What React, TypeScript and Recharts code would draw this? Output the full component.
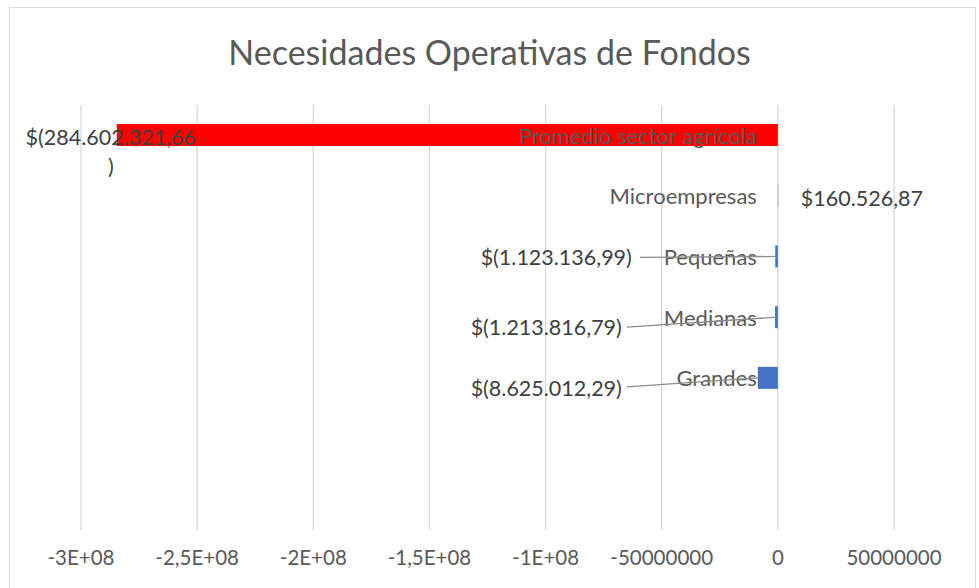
import { BarChart, Bar, XAxis, YAxis, CartesianGrid, Cell, LabelList } from 'recharts';

const categories = ['Promedio sector agrícola', 'Microempresas', 'Pequeñas', 'Medianas', 'Grandes', '', ''];
const values: (number | null)[] = [-284602321.66, 160526.87, -1123136.99, -1213816.79, -8625012.29, null, null];
const valueLabels = ['$(284.602.321,66|)', '$160.526,87', '$(1.123.136,99)', '$(1.213.816,79)', '$(8.625.012,29)', '', ''];
const xTicks = [-300000000, -250000000, -200000000, -150000000, -100000000, -50000000, 0, 50000000];
const xTickLabels = ['-3E+08', '-2,5E+08', '-2E+08', '-1,5E+08', '-1E+08', '-50000000', '0', '50000000'];

const RED = '#ff0000';
const BLUE = '#4472c4';
const TEXT = '#595959';
const FONT = 'Lato, "Open Sans", sans-serif';

// where each value label sits, relative to the zero line (or the bar end)
const labelPlaces = [
  { anchor: 'middle', from: 'end', dx: -6, dy: 2, leader: null },
  { anchor: 'start', from: 'zero', dx: 23, dy: 2, leader: null },
  { anchor: 'end', from: 'zero', dx: -146, dy: 1, leader: [-138, 1] },
  { anchor: 'end', from: 'zero', dx: -156, dy: 10, leader: [-151, 10] },
  { anchor: 'end', from: 'zero', dx: -156, dy: 10, leader: [-151, 9] },
];

const data = categories.map((name, i) => ({
  slot: `c${i}`,
  name,
  value: values[i],
  label: valueLabels[i],
}));

function BarLabels(props: any) {
  const vb = props.viewBox ?? props;
  const index: number = props.index;
  const d = data[index];
  if (!d || d.value == null || vb == null) return null;
  const x: number = Number(vb.x);
  const w: number = Number(vb.width);
  const y: number = Number(vb.y) + Number(vb.height) / 2;
  const zero = d.value < 0 ? Math.max(x, x + w) : Math.min(x, x + w);
  const end = d.value < 0 ? Math.min(x, x + w) : Math.max(x, x + w);
  const place = labelPlaces[index];
  const base = place.from === 'zero' ? zero : end;
  const lines = d.label.split('|');
  return (
    <g>
      <text
        x={zero - 21}
        y={y}
        textAnchor="end"
        dominantBaseline="central"
        fill={TEXT}
        fontSize={22}
        fontFamily={FONT}
      >
        {d.name}
      </text>
      {place.leader && (
        <line
          x1={zero + place.leader[0]}
          y1={y + place.leader[1]}
          x2={index === 4 ? end : zero - 1}
          y2={y}
          stroke="#8c8c8c"
          strokeWidth={1.3}
        />
      )}
      <text
        x={base + place.dx}
        y={y + place.dy}
        textAnchor={place.anchor as any}
        dominantBaseline="central"
        fill="#404040"
        fontSize={21.5}
        fontFamily={FONT}
      >
        {lines.map((ln, k) => (
          <tspan key={k} x={base + place.dx} dy={k === 0 ? 0 : 29}>
            {ln}
          </tspan>
        ))}
      </text>
    </g>
  );
}

export default function App() {
  return (
    <div
      style={{
        position: 'absolute',
        left: 0,
        top: 0,
        width: 979,
        height: 588,
        background: '#fff',
        overflow: 'hidden',
      }}
    >
      <div
        style={{
          position: 'absolute',
          left: 9,
          top: 7,
          width: 965,
          height: 600,
          border: '1px solid #d9d9d9',
        }}
      />
      <div
        style={{
          position: 'absolute',
          left: 0,
          top: 28,
          width: 979,
          textAlign: 'center',
          fontFamily: FONT,
          fontSize: 34,
          color: TEXT,
          lineHeight: '48px',
        }}
      >
        Necesidades Operativas de Fondos
      </div>
      <div style={{ position: 'absolute', left: 0, top: 0 }}>
        <BarChart
          width={979}
          height={588}
          data={data}
          layout="vertical"
          margin={{ top: 105, right: 85, bottom: 28, left: 81 }}
          barSize={22}
        >
          <CartesianGrid horizontal={false} stroke="#d9d9d9" strokeWidth={1.3} />
          <XAxis
            type="number"
            domain={[-300000000, 50000000]}
            ticks={xTicks}
            height={30}
            axisLine={false}
            tickLine={false}
            tickMargin={14}
            interval={0}
            tick={{ fontSize: 20.5, fill: TEXT, fontFamily: FONT }}
            tickFormatter={(v: number) => xTickLabels[xTicks.indexOf(v)] ?? String(v)}
          />
          <YAxis type="category" dataKey="slot" hide />
          <Bar dataKey="value" isAnimationActive={false}>
            {data.map((d, i) => (
              <Cell key={d.slot} fill={i === 0 ? RED : BLUE} />
            ))}
            <LabelList dataKey="value" content={BarLabels} />
          </Bar>
        </BarChart>
      </div>
    </div>
  );
}
